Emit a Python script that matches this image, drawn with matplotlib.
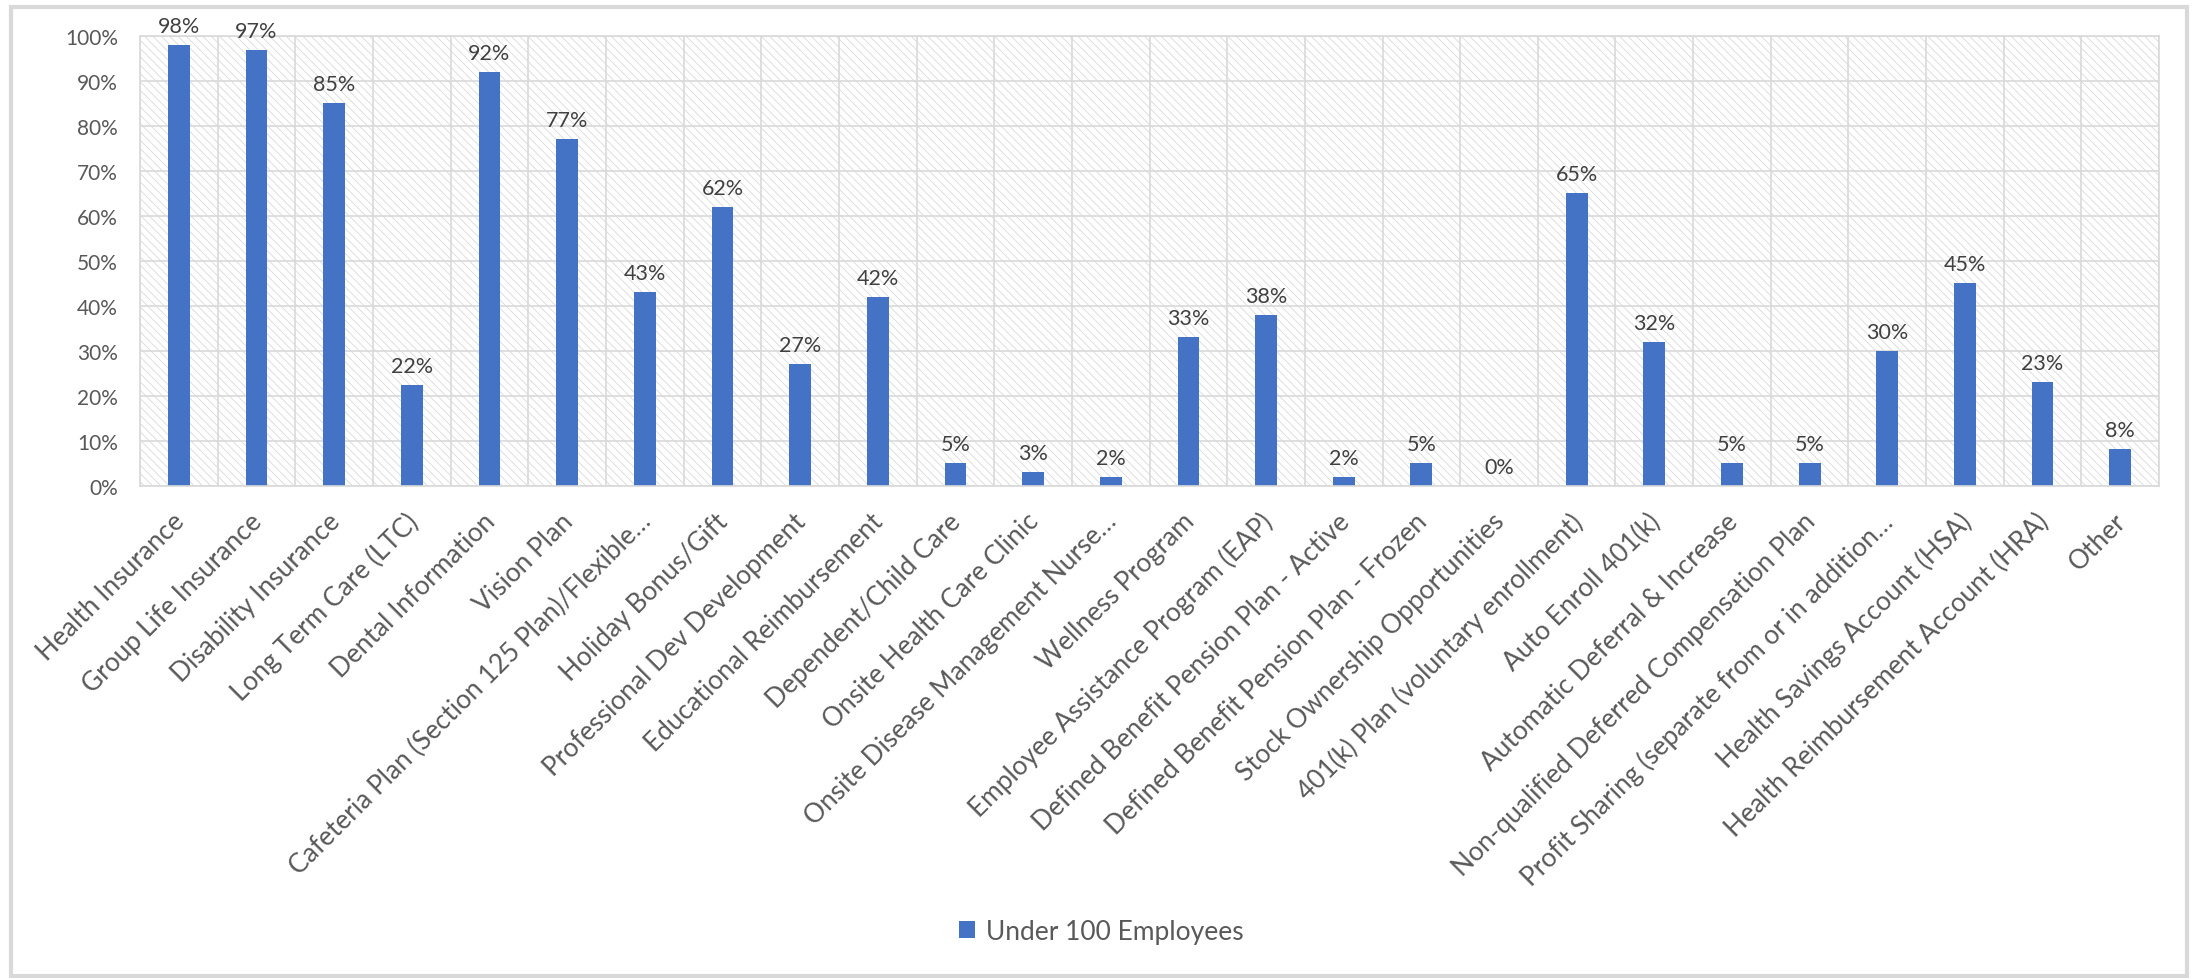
import numpy as np
import matplotlib.pyplot as plt
import matplotlib.transforms as mtransforms
from matplotlib.patches import Rectangle

plt.rcParams['font.family'] = ['Lato', 'DejaVu Sans']
plt.rcParams['hatch.linewidth'] = 0.6

# data
benefits = [
    'Health Insurance', 'Group Life Insurance', 'Disability Insurance',
    'Long Term Care (LTC)', 'Dental Information', 'Vision Plan',
    'Cafeteria Plan (Section 125 Plan)/Flexible…', 'Holiday Bonus/Gift',
    'Professional Dev Development', 'Educational Reimbursement',
    'Dependent/Child Care', 'Onsite Health Care Clinic',
    'Onsite Disease Management Nurse…', 'Wellness Program',
    'Employee Assistance Program (EAP)', 'Defined Benefit Pension Plan - Active',
    'Defined Benefit Pension Plan - Frozen', 'Stock Ownership Opportunities',
    '401(k) Plan (voluntary enrollment)', 'Auto Enroll 401(k)',
    'Automatic Deferral & Increase', 'Non-qualified Deferred Compensation Plan',
    'Profit Sharing (separate from or in addition…', 'Health Savings Account (HSA)',
    'Health Reimbursement Account (HRA)', 'Other',
]
under_100 = [98, 97, 85, 22.4, 92, 77, 43, 62, 27, 42, 5, 3, 2, 33, 38, 2, 5, 0,
             65, 32, 5, 5, 30, 45, 23, 8.2]
value_labels = ['98%', '97%', '85%', '22%', '92%', '77%', '43%', '62%', '27%', '42%',
                '5%', '3%', '2%', '33%', '38%', '2%', '5%', '0%', '65%', '32%', '5%',
                '5%', '30%', '45%', '23%', '8%']
y_ticks = np.arange(0, 101, 10)

txt = '#595959'
grid = '#d9d9d9'

fig = plt.figure(figsize=(21.98, 9.79), dpi=100)
ax = fig.add_axes([0.0637, 0.5026, 0.9186, 0.4596])

x = np.arange(len(benefits))

# hatched plot area background
ax.add_patch(Rectangle((0, 0), 1, 1, transform=ax.transAxes, facecolor='white',
                       edgecolor=grid, hatch='\\\\\\\\', lw=0, zorder=0.1))

bars = ax.bar(x, under_100, width=0.28, color='#4472C4', zorder=2,
              label='Under 100 Employees')

for xi, v, lab in zip(x, under_100, value_labels):
    ax.text(xi, v + 2.0, lab, ha='center', va='bottom', fontsize=15.5, color='#404040')

ax.set_xlim(-0.5, len(benefits) - 0.5)
ax.set_ylim(0, 100)
ax.set_yticks(y_ticks)
ax.set_yticklabels(['%d%%' % t for t in y_ticks])
ax.set_xticks(x)
ax.set_xticklabels(benefits, rotation=45, ha='right', rotation_mode='anchor')
ax.set_xticks(np.arange(-0.5, len(benefits), 1), minor=True)

ax.tick_params(axis='both', which='both', length=0, colors=txt)
ax.tick_params(axis='y', pad=16, labelsize=15)
ax.tick_params(axis='x', pad=16, labelsize=16.5)
ax.set_axisbelow(True)
ax.grid(axis='y', which='major', color=grid, lw=1.2, zorder=0.5)
ax.grid(axis='x', which='minor', color=grid, lw=1.2, zorder=0.5)
for s in ax.spines.values():
    s.set_color(grid)
    s.set_linewidth(1.2)

# size the slanted labels so the longest ones span like in the original (~370px wide)
fig.canvas.draw()
w = ax.get_xticklabels()[6].get_window_extent().width
cat_size = 16.5 * 370 / w
shift = mtransforms.ScaledTranslation(-0.07, 0, fig.dpi_scale_trans)
for t in ax.get_xticklabels():
    t.set_fontsize(cat_size)
    t.set_transform(t.get_transform() + shift)

fig.legend(handles=[bars], labels=['Under 100 Employees'], loc='center',
           bbox_to_anchor=(0.501, 0.048), frameon=False, fontsize=19,
           labelcolor=txt, handlelength=0.6, handleheight=0.6, handletextpad=0.4)

# chart border
fig.patches.append(Rectangle((0.005, 0.002), 0.99, 0.99, transform=fig.transFigure,
                             fill=False, edgecolor=grid, lw=3))

plt.savefig('out.png', dpi=100)
